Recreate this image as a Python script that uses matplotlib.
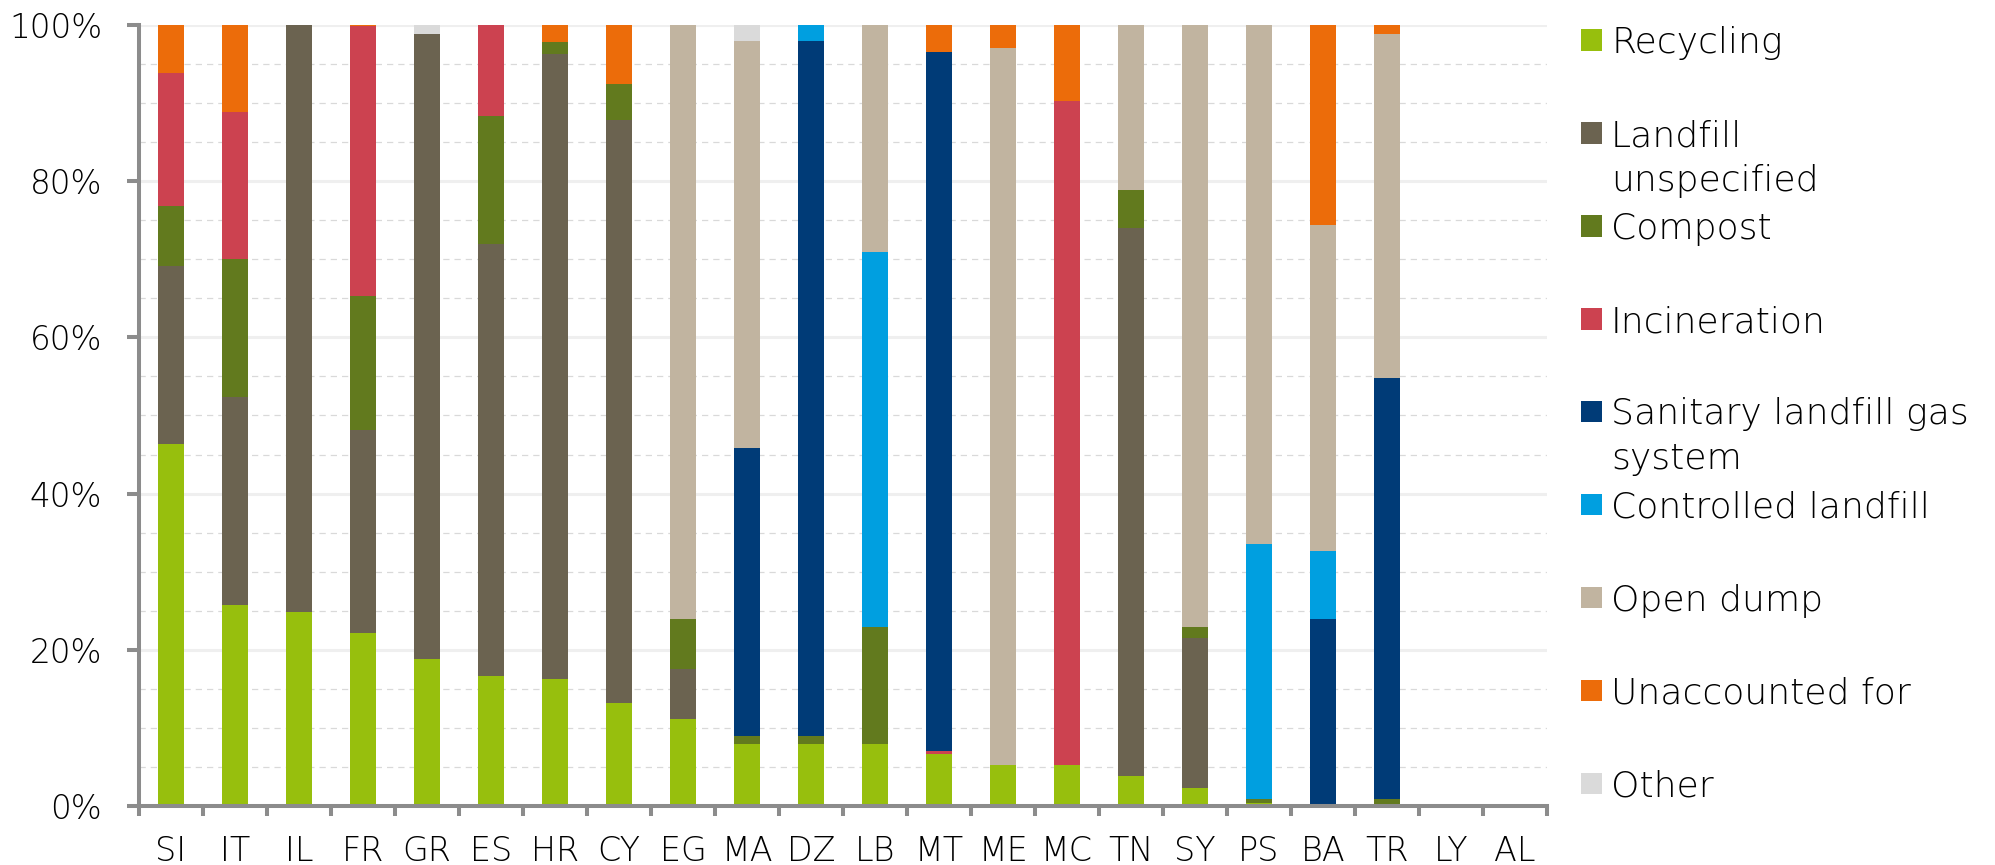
import numpy as np
import matplotlib
matplotlib.use("Agg")
import matplotlib.pyplot as plt
from matplotlib.patches import Rectangle
from matplotlib.ticker import MultipleLocator, FuncFormatter

# --- data (% of municipal waste by treatment) ---
countries = ['SI', 'IT', 'IL', 'FR', 'GR', 'ES', 'HR', 'CY', 'EG', 'MA', 'DZ',
             'LB', 'MT', 'ME', 'MC', 'TN', 'SY', 'PS', 'BA', 'TR', 'LY', 'AL']

recycling    = [46.4, 25.8, 24.9, 22.2, 18.8, 16.7, 16.2, 13.2, 11.2, 7.9, 7.9,
                7.9, 6.6, 5.2, 5.3, 3.9, 2.3, 0.4, 0.0, 0.3, 0, 0]
landfill     = [22.7, 26.6, 75.1, 25.9, 80.1, 55.2, 80.1, 74.6, 6.3, 0.0, 0.0,
                0.0, 0.0, 0.0, 0.0, 70.1, 19.2, 0.0, 0.3, 0.0, 0, 0]
compost      = [7.7, 17.6, 0.0, 17.2, 0.0, 16.5, 1.5, 4.6, 6.4, 1.0, 1.0,
                15.0, 0.0, 0.0, 0.0, 4.9, 1.4, 0.5, 0.0, 0.6, 0, 0]
incineration = [17.0, 18.9, 0.0, 34.6, 0.0, 11.6, 0.0, 0.0, 0.0, 0.0, 0.0,
                0.0, 0.4, 0.0, 85.0, 0.0, 0.0, 0.0, 0.0, 0.0, 0, 0]
sanitary     = [0.0, 0.0, 0.0, 0.0, 0.0, 0.0, 0.0, 0.0, 0.0, 37.0, 89.1,
                0.0, 89.6, 0.0, 0.0, 0.0, 0.0, 0.0, 23.7, 53.9, 0, 0]
controlled   = [0.0, 0.0, 0.0, 0.0, 0.0, 0.0, 0.0, 0.0, 0.0, 0.0, 2.0,
                48.0, 0.0, 0.0, 0.0, 0.0, 0.0, 32.6, 8.6, 0.0, 0, 0]
open_dump    = [0.0, 0.0, 0.0, 0.0, 0.0, 0.0, 0.0, 0.0, 76.1, 52.1, 0.0,
                29.1, 0.0, 91.8, 0.0, 21.1, 77.1, 66.5, 41.8, 44.1, 0, 0]
unaccounted  = [6.2, 11.1, 0.0, 0.1, 0.0, 0.0, 2.2, 7.6, 0.0, 0.0, 0.0,
                0.0, 3.4, 3.0, 9.7, 0.0, 0.0, 0.0, 25.6, 1.1, 0, 0]
other        = [0.0, 0.0, 0.0, 0.0, 1.1, 0.0, 0.0, 0.0, 0.0, 2.0, 0.0,
                0.0, 0.0, 0.0, 0.0, 0.0, 0.0, 0.0, 0.0, 0.0, 0, 0]

series = [
    ('Recycling', recycling, '#97bf0d'),
    ('Landfill\nunspecified', landfill, '#6b6350'),
    ('Compost', compost, '#627a1e'),
    ('Incineration', incineration, '#cc4250'),
    ('Sanitary landfill gas\nsystem', sanitary, '#003b77'),
    ('Controlled landfill', controlled, '#009fe0'),
    ('Open dump', open_dump, '#c1b4a0'),
    ('Unaccounted for', unaccounted, '#ec6c0a'),
    ('Other', other, '#dadada'),
]

plt.rcParams['font.family'] = ['DejaVu Sans']
TXT = '#000000'
W, H = 1995, 865

fig = plt.figure(figsize=(19.95, 8.65), dpi=100)
ax = fig.add_axes([139 / W, 1 - 806 / H, (1547 - 139) / W, (806 - 25) / H])

x = np.arange(len(countries))
bottom = np.zeros(len(countries))
for name, vals, col in series:
    v = np.array(vals, dtype=float)
    ax.bar(x, v, width=0.4, bottom=bottom, color=col, edgecolor='none', zorder=3)
    bottom += v

ax.set_xlim(-0.5, len(countries) - 0.5)
ax.set_ylim(0, 100)

# grid: solid major every 20%, dashed minor every 5%
ax.yaxis.set_major_locator(MultipleLocator(20))
ax.yaxis.set_minor_locator(MultipleLocator(5))
ax.yaxis.set_major_formatter(FuncFormatter(lambda v, p: f'{v:.0f}%'))
ax.grid(which='major', axis='y', color='#efefef', linewidth=2.2, zorder=0)
ax.grid(which='minor', axis='y', color='#d9d9d9', linewidth=0.9,
        linestyle=(0, (5, 4)), zorder=0)
ax.set_axisbelow(True)

ax.set_xticks(x)
ax.set_xticklabels(countries)
ax.set_xticks(np.arange(-0.5, len(countries)), minor=True)

for s in ['top', 'right']:
    ax.spines[s].set_visible(False)
for s in ['left', 'bottom']:
    ax.spines[s].set_color('#8c8c8c')
    ax.spines[s].set_linewidth(2.9)
    ax.spines[s].set_zorder(4)

ax.tick_params(axis='x', which='major', length=0, pad=21, labelsize=24, labelcolor=TXT)
ax.tick_params(axis='x', which='minor', length=7, width=2.9, color='#8c8c8c', direction='out')
ax.tick_params(axis='y', which='major', length=8.5, width=2.9, color='#8c8c8c',
               pad=18, labelsize=23.5, labelcolor=TXT)
ax.tick_params(axis='y', which='minor', length=0)
for lab in ax.get_xticklabels() + ax.get_yticklabels():
    lab.set_fontweight(200)

# --- legend drawn by hand so entries keep a fixed pitch ---
entry_y = [40, 133, 226, 319, 411, 504, 597, 690, 783]
for (name, vals, col), yc in zip(series, entry_y):
    fig.add_artist(Rectangle((1581 / W, 1 - (yc + 10.5) / H), 21 / W, 21 / H,
                             transform=fig.transFigure, color=col, lw=0))
    for k, line in enumerate(name.split('\n')):
        fig.text(1611 / W, 1 - (yc + 44 * k) / H, line, ha='left',
                 va='center_baseline', fontsize=26, color=TXT, fontweight=200)

fig.savefig('out.png', dpi=100)
